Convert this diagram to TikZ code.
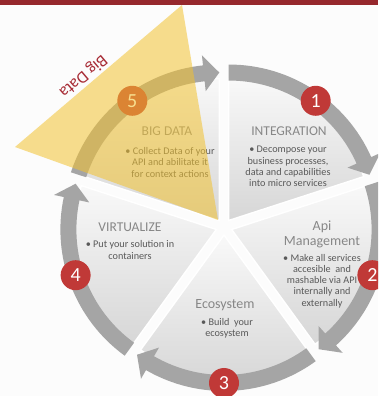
\documentclass[tikz,border=0pt]{standalone}
\usepackage{fontspec}
\setmainfont{Carlito}
\usetikzlibrary{calc}
\definecolor{barred}{RGB}{150,40,45}
\definecolor{numred}{RGB}{192,57,55}
\definecolor{arrowgray}{RGB}{165,165,165}
\definecolor{titlegray}{RGB}{135,135,135}
\definecolor{textgray}{RGB}{89,89,89}
\definecolor{bigyellow}{RGB}{242,194,48}
\definecolor{labelred}{RGB}{168,45,55}
\tikzset{
 seg/.style={draw=white, line width=1.5pt, shading=axis, top color=gray!5, bottom color=gray!32},
 ring/.style={fill=arrowgray},
 num/.style={circle, fill=numred, minimum size=30pt, inner sep=0pt, text=white, font=\fontsize{20}{20}\selectfont},
 ttl/.style={text=titlegray, font=\fontsize{13.5}{14}\selectfont, inner sep=0pt},
 ttlb/.style={text=titlegray, font=\fontsize{14}{15}\selectfont, inner sep=0pt, align=center},
 bul/.style={text=textgray, font=\fontsize{10.2}{11.2}\selectfont, align=center, inner sep=0pt},
}
\begin{document}
\begin{tikzpicture}[x=1pt,y=1pt]
\useasboundingbox (0,0) rectangle (378,396);
\clip (0,0) rectangle (378,396);
\fill[gray!2] (0,0) rectangle (378,396);
\coordinate (C) at (224,169);
% segment centres
\foreach \n/\sa/\sb in {1/90/18, 2/18/-54, 3/-54/-126, 4/-126/-198, 5/162/90}{
  \pgfmathsetmacro\bis{(\sa+\sb)/2}
  \coordinate (S\n) at ($(C)+(\bis:8)$);
}
% segments
\foreach \n/\sa/\sb in {1/90/18, 2/18/-54, 3/-54/-126, 4/-126/-198, 5/162/90}{
  \path[seg] (S\n) -- ($(S\n)+(\sa:142)$) arc[start angle=\sa, end angle=\sb, radius=142] -- cycle;
}
% texts
\node[ttl] (t5) at (167,265) {BIG DATA};
\node[bul] (b5) at (170,233.5) {• Collect Data of your\\API and abilitate it\\for context actions};
\node[ttl] (t1) at (289,265) {INTEGRATION};
\node[bul] (b1) at (288,229.5) {• Decompose your\\business processes,\\data and capabilities\\into micro services};
\node[ttl] (t4) at (130,169) {VIRTUALIZE};
\node[bul] (b4) at (130,146) {• Put your solution in\\containers};
\node[ttlb] (t2) at (322,162) {Api\\Management};
\node[bul] (b2) at (322,115) {• Make all services\\accesible \ and\\mashable via API\\internally and\\externally};
\node[ttlb] (t3) at (225,91) {Ecosystem};
\node[bul] (b3) at (227,67.5) {• Build \ your\\ecosystem};
% arrows
\foreach \n/\sa/\sb in {1/90/18, 2/18/-54, 3/-54/-126, 4/-126/-198, 5/162/90}{
  \pgfmathsetmacro\hb{\sb+6}
  \fill[ring] ($(S\n)+(\sa:156)$) arc[start angle=\sa, end angle=\hb, radius=156]
    -- ($(S\n)+(\hb:166)$) -- ($(S\n)+(\sb:148)$) -- ($(S\n)+(\hb:130)$)
    -- ($(S\n)+(\hb:140)$) arc[start angle=\hb, end angle=\sa, radius=140] -- cycle;
}
% number badges
\foreach \n/\sa/\sb in {1/90/18, 2/18/-54, 3/-54/-126, 4/-126/-198, 5/162/90}{
  \pgfmathsetmacro\bis{(\sa+\sb)/2}
  \node[num] (n\n) at ($(S\n)+(\bis:148)$) {\n};
}
% big data overlay
\fill[bigyellow, fill opacity=0.55] (182,391) -- (15,249) -- (218,176) -- cycle;
\node[text=labelred, font=\fontsize{17}{17}\selectfont, rotate=220.4, inner sep=0pt] (bd) at (83,320) {Big Data};
% top bar
\fill[barred] (0,391) rectangle (378,396);
\end{tikzpicture}
\end{document}
